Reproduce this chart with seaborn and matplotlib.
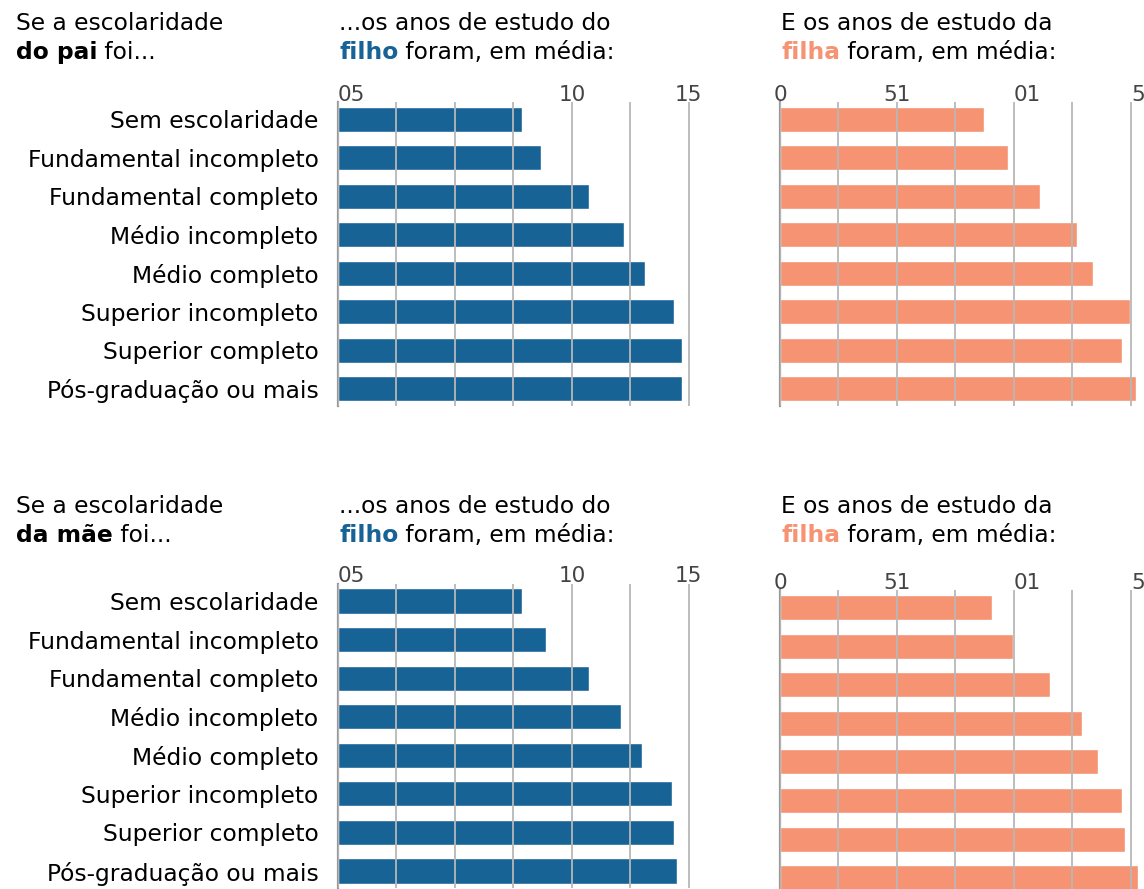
import matplotlib.pyplot as plt
import seaborn as sns

# dados (anos medios de estudo)
categorias = ['Sem escolaridade', 'Fundamental incompleto', 'Fundamental completo',
              'Médio incompleto', 'Médio completo', 'Superior incompleto',
              'Superior completo', 'Pós-graduação ou mais']
pai_filho = [7.87, 8.68, 10.73, 12.23, 13.12, 14.37, 14.71, 14.71]
pai_filha = [8.72, 9.75, 11.12, 12.70, 13.38, 14.96, 14.62, 15.22]
mae_filho = [7.87, 8.89, 10.73, 12.10, 13.00, 14.28, 14.37, 14.49]
mae_filha = [9.05, 9.96, 11.54, 12.91, 13.60, 14.62, 14.75, 15.30]

ticks = [0, 2.5, 5, 7.5, 10, 12.5, 15]
rotulos_filho = ['05', '', '', '', '10', '', '15']
rotulos_filha = ['0', '', '51', '', '01', '', '5']

AZUL = '#186396'
SALMAO = '#f59373'

W, H = 1144, 889


def px(x, y):
    return x / W, 1 - y / H


def draw_panel(ax, values, color, tick_labels, aligns, show_y):
    sns.barplot(x=values, y=categorias, orient='h', color=color, saturation=1,
                width=0.65, ax=ax)
    ax.set_xlim(0, 15.6)
    ax.set_ylim(7.45, -0.45)
    ax.xaxis.tick_top()
    ax.set_xticks(ticks)
    ax.set_xticklabels(tick_labels)
    for lbl, ha in zip(ax.get_xticklabels(), aligns):
        lbl.set_horizontalalignment(ha)
    ax.tick_params(axis='x', length=0, pad=-2, labelsize=15.5, labelcolor='#444444')
    ax.tick_params(axis='y', length=0, pad=14, labelsize=16.8, labelcolor='black')
    if not show_y:
        ax.set_yticklabels([])
    ax.set_xlabel('')
    ax.set_ylabel('')
    for s in ['top', 'right', 'bottom']:
        ax.spines[s].set_visible(False)
    ax.spines['left'].set_color('#999999')
    ax.spines['left'].set_linewidth(1.6)
    ax.set_axisbelow(False)
    ax.grid(axis='x', color='#b8b8b8', linewidth=1.3)
    ax.grid(axis='y', visible=False)
    ax.set_facecolor('none')


sns.set_style('white')
plt.rcParams['font.family'] = ['DejaVu Sans']
plt.rcParams['text.color'] = 'black'

fig = plt.figure(figsize=(W / 100, H / 100), dpi=100)

# eixos posicionados em pixels da referencia
ax1 = fig.add_axes([338 / W, 1 - 405.8 / H, 364.9 / W, 303.6 / H])
ax2 = fig.add_axes([780 / W, 1 - 405.8 / H, 364.9 / W, 303.6 / H])
ax3 = fig.add_axes([338 / W, 1 - 888.4 / H, 364.9 / W, 304.8 / H])
ax4 = fig.add_axes([780 / W, 1 - 895 / H, 364.9 / W, 304.8 / H])

al_filho = ['left', 'center', 'center', 'center', 'center', 'center', 'center']
al_filha = ['center', 'center', 'center', 'center', 'left', 'center', 'left']

draw_panel(ax1, pai_filho, AZUL, rotulos_filho, al_filho, True)
draw_panel(ax2, pai_filha, SALMAO, rotulos_filha, al_filha, False)
draw_panel(ax3, mae_filho, AZUL, rotulos_filho, al_filho, True)
draw_panel(ax4, mae_filha, SALMAO, rotulos_filha, al_filha, False)

# titulos com palavra em negrito
blocos = [
    (16, 30, 'Se a escolaridade', 'do pai', ' foi...', 'black'),
    (339, 30, '...os anos de estudo do', 'filho', ' foram, em média:', AZUL),
    (781, 30, 'E os anos de estudo da', 'filha', ' foram, em média:', SALMAO),
    (16, 513, 'Se a escolaridade', 'da mãe', ' foi...', 'black'),
    (339, 513, '...os anos de estudo do', 'filho', ' foram, em média:', AZUL),
    (781, 513, 'E os anos de estudo da', 'filha', ' foram, em média:', SALMAO),
]
pares = []
for x, y, first, bold, rest, color in blocos:
    fx, fy = px(x, y)
    fig.text(fx, fy, first, fontsize=16.8, va='baseline', ha='left')
    fx2, fy2 = px(x, y + 29)
    t_bold = fig.text(fx2, fy2, bold, fontsize=16.8, fontweight='bold', color=color,
                      va='baseline', ha='left')
    t_rest = fig.text(fx2, fy2, rest, fontsize=16.8, va='baseline', ha='left')
    pares.append((t_bold, t_rest))

# posiciona o resto da frase logo depois da palavra em negrito
fig.canvas.draw()
r = fig.canvas.get_renderer()
for t_bold, t_rest in pares:
    bb = t_bold.get_window_extent(renderer=r)
    t_rest.set_x(bb.x1 / fig.bbox.width)

fig.savefig('out.png', dpi=100)
